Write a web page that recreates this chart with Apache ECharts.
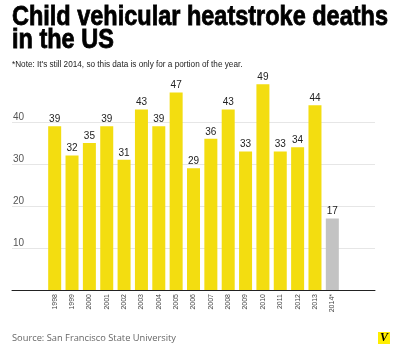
<!DOCTYPE html>
<html lang="en" style="height: 100%">
<head>
  <meta charset="utf-8">
</head>
<body style="height: 100%; margin: 0; background: #fff">
  <div id="container" style="width: 400px; height: 351px"></div>
  <script type="text/javascript" src="https://cdn.jsdelivr.net/npm/echarts@6/dist/echarts.min.js"></script>
  <script type="text/javascript">
    // years (2014 is partial)
    var years = ['1998', '1999', '2000', '2001', '2002', '2003', '2004', '2005', '2006',
      '2007', '2008', '2009', '2010', '2011', '2012', '2013', '2014*'];
    // deaths per year
    var deaths = [39, 32, 35, 39, 31, 43, 39, 47, 29, 36, 43, 33, 49, 33, 34, 44, 17];
    // y axis ticks
    var yTicks = [0, 10, 20, 30, 40];

    var barData = deaths.map(function (v, i) {
      var partial = years[i].indexOf('*') >= 0;
      return {
        value: v,
        itemStyle: { color: partial ? '#c3c3c3' : '#f3dd10' }
      };
    });

    var dom = document.getElementById('container');
    var myChart = echarts.init(dom, null, { renderer: 'canvas' });

    var option = {
      animation: false,
      backgroundColor: '#fff',
      title: [
        {
          text: '*Note: It\'s still 2014, so this data is only for a portion of the year.',
          left: 12,
          top: 61,
          padding: 0,
          textStyle: { fontFamily: 'Liberation Sans', fontWeight: 'normal', fontSize: 8.2, color: '#222' }
        },
        {
          text: 'Source: San Francisco State University',
          left: 12,
          top: 334,
          padding: 0,
          textStyle: { fontFamily: 'Open Sans', fontWeight: 'normal', fontSize: 9.3, color: '#666' }
        }
      ],
      graphic: [
        {
          // heavy condensed headline, squeezed horizontally
          type: 'text',
          x: 12,
          y: 6,
          scaleX: 0.87,
          style: {
            text: 'Child vehicular heatstroke deaths\nin the US',
            font: 'bold 27px "Liberation Sans"',
            lineHeight: 23,
            fill: '#000',
            stroke: '#000',
            lineWidth: 0.8,
            verticalAlign: 'top'
          }
        },
        {
          type: 'text',
          left: 378,
          top: 332,
          style: {
            text: 'V',
            font: 'italic bold 12px "Liberation Serif"',
            fill: '#000',
            backgroundColor: '#ffee00',
            padding: [0, 2, 0, 2]
          }
        }
      ],
      grid: [
        // wide grid: gridlines, y labels and base line
        { left: 12, right: 25, top: 122, bottom: 61 },
        // bars grid
        { left: 46, right: 59, top: 80, bottom: 61 }
      ],
      xAxis: [
        {
          gridIndex: 0,
          type: 'value',
          min: 0,
          max: 1,
          axisLine: { show: true, onZero: false, lineStyle: { color: '#222', width: 1 } },
          axisTick: { show: false },
          axisLabel: { show: false },
          splitLine: { show: false }
        },
        {
          gridIndex: 1,
          type: 'category',
          data: years,
          axisLine: { show: false },
          axisTick: { show: false },
          axisLabel: {
            rotate: 90,
            interval: 0,
            margin: 4,
            fontFamily: 'Liberation Sans',
            fontSize: 7,
            color: '#444'
          }
        }
      ],
      yAxis: [
        {
          gridIndex: 0,
          type: 'value',
          min: yTicks[0],
          max: yTicks[yTicks.length - 1],
          interval: 10,
          axisLine: { show: false },
          axisTick: { show: false },
          axisLabel: {
            inside: true,
            margin: 1,
            verticalAlign: 'bottom',
            fontFamily: 'Liberation Sans',
            fontSize: 10,
            color: '#555',
            formatter: function (v) { return v === 0 ? '' : v; }
          },
          splitLine: { show: true, lineStyle: { color: '#e6e6e6', width: 1 } }
        },
        {
          gridIndex: 1,
          type: 'value',
          min: 0,
          max: 50,
          axisLine: { show: false },
          axisTick: { show: false },
          axisLabel: { show: false },
          splitLine: { show: false }
        }
      ],
      series: [
        {
          type: 'bar',
          xAxisIndex: 1,
          yAxisIndex: 1,
          barWidth: 13,
          data: barData,
          label: {
            show: true,
            position: 'top',
            distance: 2,
            fontFamily: 'Liberation Sans',
            fontSize: 10,
            color: '#222'
          }
        }
      ]
    };

    myChart.setOption(option);
  </script>
</body>
</html>
